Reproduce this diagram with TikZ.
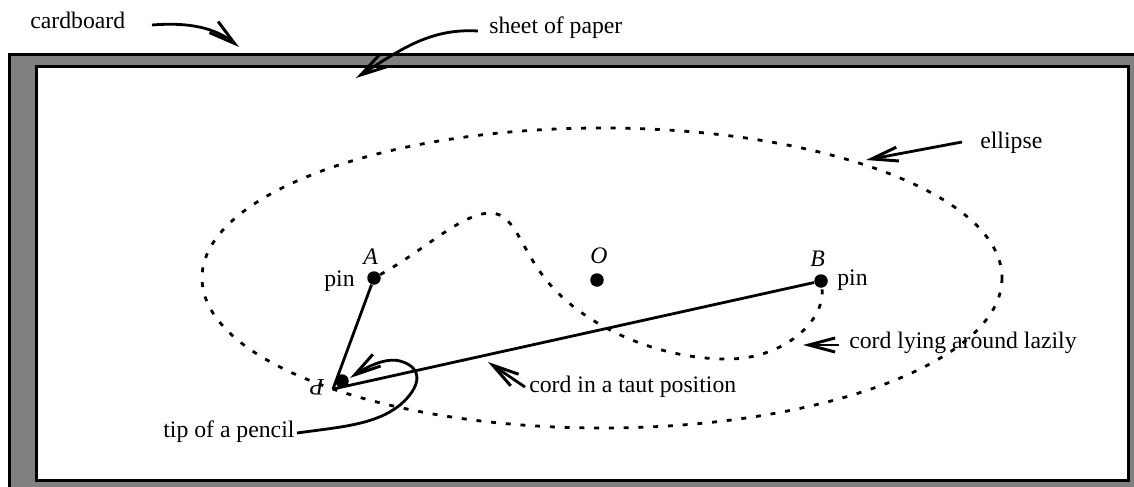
\documentclass[tikz,border=0pt]{standalone}
\usepackage{fontspec}
\setmainfont{Liberation Serif}
\usetikzlibrary{arrows.meta}

\begin{document}
\begin{tikzpicture}[x=0.02cm,y=-0.02cm]
\useasboundingbox (0,0) rectangle (1134,487);
% cardboard and sheet
\fill [gray] (9.5,54.5) rectangle (1134,487);
\draw [line width=1.7pt] (1134,54.5) -- (9.5,54.5) -- (9.5,487);
\draw [fill=white,line width=1.7pt] (36.5,66.5) rectangle (1128.5,480.5);

\begin{scope}[every node/.style={circle,fill=black,inner sep=0pt,minimum size=0.27cm}]
    \node (pin_a) at (374, 278) {};
    \node (pin_o) at (597, 280) {};
    \node (pin_b) at (821, 281) {};
    \node (pencil) at (342, 381) {};
\end{scope}

\begin{scope}[every node/.style={inner sep=0pt,anchor=base west,font=\fontsize{13.5}{16}\selectfont}]
    \node (cardboard) at (30, 28) {cardboard};
    \node (sheet) at (489, 33) {sheet of paper};
    \node (ellipse_label) at (980, 148) {ellipse};
    \node (pin_left) at (324, 286) {pin};
    \node (pin_right) at (837, 285) {pin};
    \node (lazy_label) at (849, 348) {cord lying around lazily};
    \node (taut_label) at (529, 392) {cord in a taut position};
    \node (pencil_label) at (163, 437) {tip of a pencil};
    \node (a_label) at (363, 264) {\itshape A};
    \node (o_label) at (590, 263) {\itshape O};
    \node (b_label) at (810, 266) {\itshape B};
    \node (p_label) [anchor=center,rotate=180] at (317, 387) {\itshape P};
\end{scope}

\coordinate (tip) at (333, 389);
\coordinate (cardboard_from) at (152, 25);
\coordinate (cardboard_to) at (239, 47);
\coordinate (sheet_from) at (478, 31);
\coordinate (sheet_to) at (356, 78);
\coordinate (ellipse_from) at (962, 142);
\coordinate (ellipse_to) at (866, 160);
\coordinate (lazy_from) at (839, 345);
\coordinate (lazy_to) at (803, 345);
\coordinate (taut_from) at (525, 387);
\coordinate (taut_to) at (488, 362);
\coordinate (pencil_from) at (297, 433);
\coordinate (pencil_to) at (350, 378);

\begin{scope}[>={Straight Barb[length=15pt,width=8pt,line width=1.7pt]},
              dash_cord/.style={draw=black,line width=1.6pt,dash pattern=on 2.8pt off 5.6pt},
              taut_cord/.style={draw=black,line width=1.6pt},
              pointer/.style={draw=black,line width=1.6pt}]
    \draw [dash_cord] (602, 278) ellipse [x radius=400, y radius=150];
    \draw [dash_cord] (pin_a) .. controls (425, 250) and (460, 214) .. (490, 213)
        .. controls (518, 213) and (520, 255) .. (557, 292)
        .. controls (600, 335) and (670, 360) .. (730, 359)
        .. controls (785, 358) and (826, 320) .. (pin_b);
    \path (pin_a) edge [taut_cord] (tip);
    \path (pin_b) edge [taut_cord] (tip);
    \draw [pointer,->] (cardboard_from) .. controls (190, 22) and (215, 28) .. (cardboard_to);
    \draw [pointer,->] (sheet_from) .. controls (430, 28) and (400, 50) .. (sheet_to);
    \draw [pointer,->] (ellipse_from) -- (ellipse_to);
    \draw [pointer,->] (lazy_from) -- (lazy_to);
    \draw [pointer,->] (taut_from) -- (taut_to);
    \draw [pointer,->] (pencil_from) .. controls (340, 427) and (375, 425) .. (400, 405)
        .. controls (420, 388) and (425, 368) .. (400, 361)
        .. controls (385, 357) and (365, 368) .. (pencil_to);
\end{scope}
\end{tikzpicture}
\end{document}
